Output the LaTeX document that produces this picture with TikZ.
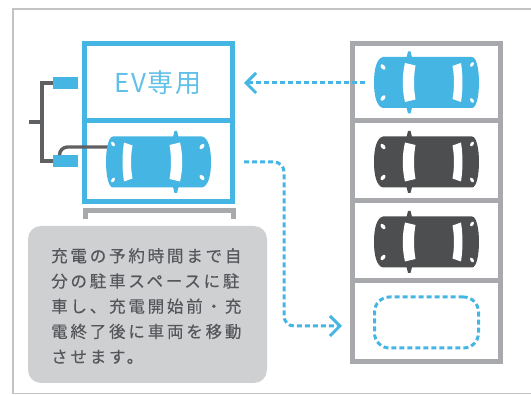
\documentclass[tikz,border=0pt]{standalone}
\usepackage{xcolor}
\usepackage{fontspec}
\usetikzlibrary{arrows.meta}
\newfontfamily\cjk[LetterSpace=6]{Noto Sans CJK JP}
\newfontfamily\cjkspaced[LetterSpace=17,FakeBold=0.25]{Noto Sans CJK JP}
\definecolor{evblue}{HTML}{45B5E3}
\definecolor{evdark}{HTML}{4D4E50}
\definecolor{evgray}{HTML}{A7A9AC}
\definecolor{evnote}{HTML}{CFD0D2}
\definecolor{evtext}{HTML}{55565A}

\begin{document}
\begin{tikzpicture}[
  x=1pt, y=-1pt,
  stall/.style={draw, rectangle, inner sep=0pt, minimum width=148pt, line width=5pt},
  evstall/.style={stall, draw=evblue},
  rackstall/.style={stall, draw=evgray},
  plug/.style={fill=evblue, inner sep=0pt, minimum width=25pt, minimum height=12pt},
  cable/.style={draw=evdark!90, line width=3.4pt},
  route/.style={draw=evblue, line width=3pt, dash pattern=on 5pt off 3pt},
  move/.style={route, -{Straight Barb[length=10pt, width=20pt, line width=3pt]}},
  note/.style={fill=evnote, rounded corners=13pt, minimum width=239pt, minimum height=157pt, inner sep=0pt},
  pics/car/.style={code={
    \fill[#1] (-43.5,-25.5) -- (45.5,-25.5) .. controls (50,-25.5) and (52.5,-13) .. (52.5,0)
      .. controls (52.5,13) and (50,25.5) .. (45.5,25.5) -- (-43.5,25.5)
      .. controls (-50,24) and (-52.5,13) .. (-52.5,0)
      .. controls (-52.5,-13) and (-50,-24) .. (-43.5,-25.5) -- cycle;
    \fill[#1] (-20,-25) -- (-18.5,-31) -- (-16,-31) -- (-14.5,-25) -- cycle;
    \fill[#1] (-20,25) -- (-18.5,31) -- (-16,31) -- (-14.5,25) -- cycle;
    \fill[white] (-21.5,-19.5) -- (-11,-17) .. controls (-13,-6) and (-13,6) .. (-11,17)
      -- (-21.5,19.5) .. controls (-24.5,7) and (-24.5,-7) .. (-21.5,-19.5) -- cycle;
    \fill[white] (34.5,-19.5) -- (26,-16.5) .. controls (28,-6) and (28,6) .. (26,16.5)
      -- (34.5,19.5) .. controls (36.5,7) and (36.5,-7) .. (34.5,-19.5) -- cycle;
    \fill[white, rotate around={-50:(-43.5,-15.5)}] (-43.5,-15.5) ellipse (3.2 and 1.9);
    \fill[white, rotate around={50:(-43.5,15.5)}] (-43.5,15.5) ellipse (3.2 and 1.9);
    \fill[white, rotate around={60:(45.5,-18)}] (45.5,-18) ellipse (2.6 and 1.6);
    \fill[white, rotate around={-60:(45.5,18)}] (45.5,18) ellipse (2.6 and 1.6);
  }}
]
\useasboundingbox (0,0) rectangle (531,395);
\draw[evgray!70, line width=1.6pt] (531,9) -| (13,393.5) -- (531,393.5);

\node[evstall, minimum height=77.5pt] (slotev) at (158.5,82.25) {};
\node[evstall, minimum height=80.5pt] (slotcharge) at (158.5,161.25) {};
\node[text=evblue!85, font=\cjk\fontsize{26}{26}\selectfont] (evlabel) at (158,83) {EV専用};
\draw[evgray, line width=5pt] (85,219) |- (233,210.5) -- (233,219);

\node[plug] (plugtop) at (65.5,83) {};
\node[plug] (plugcharge) at (65.5,161) {};
\coordinate (trunk) at (42,122);
\coordinate (stub) at (29,122);
\coordinate (carinlet) at (112,147);
\draw[cable] (plugtop.west) -| (trunk) |- (plugcharge.west);
\draw[cable] (stub) -- (trunk);
\draw[cable, rounded corners=8pt] ([xshift=-6pt]plugcharge.north) |- (carinlet);
\pic[xscale=-1] (carcharge) at (158.5,162) {car=evblue};

\node[rackstall, minimum height=77.5pt] (rackone) at (426.5,82.25) {};
\node[rackstall, minimum height=80pt] (racktwo) at (426.5,161) {};
\node[rackstall, minimum height=80pt] (rackthree) at (426.5,241) {};
\node[rackstall, minimum height=81pt] (rackfour) at (426.5,321.5) {};
\pic (carone) at (426.5,82.5) {car=evblue};
\pic (cartwo) at (426.5,162) {car=evdark};
\pic (carthree) at (426.5,242) {car=evdark};
\node[route, rectangle, rounded corners=15pt, inner sep=0pt, minimum width=104pt, minimum height=51pt] (freespot) at (426.5,322.5) {};

\coordinate (leavespot) at (365,83);
\coordinate (reachev) at (244,83);
\coordinate (leavecharge) at (244,162);
\coordinate (bend) at (284,326);
\coordinate (reachspot) at (342,326);
\draw[move] (leavespot) -- (reachev);
\draw[move, rounded corners=10pt] (leavecharge) -| (bend) -- (reachspot);

\node[note] (notebox) at (147.5,304.5) {};
\node[text=evtext, align=left, anchor=north west, inner sep=0pt, font=\cjkspaced\fontsize{16.5}{25.2}\selectfont] (notetext) at (51,248)
  {充電の予約時間まで自\\分の駐車スペースに駐\\車し、充電開始前・充\\電終了後に車両を移動\\させます。};
\end{tikzpicture}
\end{document}
